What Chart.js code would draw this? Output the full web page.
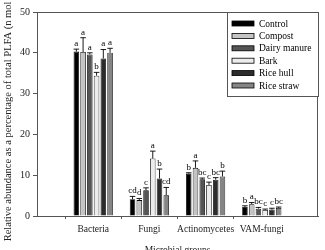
<!DOCTYPE html>
<html>
<head>
<meta charset="utf-8">
<script src="https://cdn.jsdelivr.net/npm/chart.js@4/dist/chart.umd.min.js"></script>
<style>
html,body{margin:0;padding:0;background:#fff;}
#wrap{width:325px;height:250px;position:relative;}
</style>
</head>
<body>
<div id="wrap"><canvas id="c" width="325" height="250"></canvas></div>
<script>
const categories = ['Bacteria', 'Fungi', 'Actinomycetes', 'VAM-fungi'];
const seriesNames = ['Control', 'Compost', 'Dairy manure', 'Bark', 'Rice hull', 'Rice straw'];
const seriesColors = ['#000000', '#c4c4c4', '#555555', '#ececec', '#2c2c2c', '#858585'];

const control   = [40.3, 4.1, 10.4, 2.2];
const compost   = [40.2, 3.9, 11.8, 2.9];
const dairy     = [39.6, 6.3, 9.0, 1.8];
const bark      = [34.4, 14.1, 7.6, 1.5];
const riceHull  = [38.6, 9.2, 8.9, 1.6];
const riceStraw = [40.0, 5.1, 9.7, 2.0];

const errControl   = [0.6, 0.7, 0.2, 0.3];
const errCompost   = [3.5, 0.4, 1.7, 0.4];
const errDairy     = [0.4, 0.6, 0.3, 0.3];
const errBark      = [0.8, 1.8, 0.7, 0.2];
const errRiceHull  = [2.2, 2.3, 0.5, 0.3];
const errRiceStraw = [1.1, 1.9, 1.3, 0.2];

const letControl   = ['a', 'cd', 'b', 'b'];
const letCompost   = ['a', 'd', 'a', 'a'];
const letDairy     = ['a', 'c', 'bc', 'bc'];
const letBark      = ['b', 'a', 'c', 'c'];
const letRiceHull  = ['a', 'b', 'bc', 'c'];
const letRiceStraw = ['a', 'cd', 'b', 'bc'];

const yTicks = [0, 10, 20, 30, 40, 50];

const values = [control, compost, dairy, bark, riceHull, riceStraw];
const errors = [errControl, errCompost, errDairy, errBark, errRiceHull, errRiceStraw];
const letters = [letControl, letCompost, letDairy, letBark, letRiceHull, letRiceStraw];

const pad = a => [null, ...a, null];
const labels = ['', ...categories, ''];

const serif = 'Liberation Serif, Times New Roman, serif';

const datasets = seriesNames.map((n, i) => ({
  label: n,
  data: pad(values[i]),
  backgroundColor: seriesColors[i],
  borderColor: '#000',
  borderWidth: 0.8,
  errs: pad(errors[i]),
  lets: pad(letters[i]),
  barPercentage: 0.82,
  categoryPercentage: 0.72
}));

const boxPlugin = {
  id: 'box',
  afterDraw(chart) {
    const {ctx, chartArea: a} = chart;
    ctx.save();
    ctx.strokeStyle = '#555';
    ctx.lineWidth = 1;
    ctx.strokeRect(a.left + 0.5, a.top + 0.5, a.right - a.left - 1, a.bottom - a.top);
    ctx.restore();
  }
};

const errPlugin = {
  id: 'errs',
  afterDatasetsDraw(chart) {
    const ctx = chart.ctx;
    const y = chart.scales.y;
    ctx.save();
    ctx.strokeStyle = '#000';
    ctx.lineWidth = 0.9;
    ctx.fillStyle = '#000';
    ctx.font = '9px ' + serif;
    ctx.textAlign = 'center';
    ctx.textBaseline = 'bottom';
    chart.data.datasets.forEach((ds, di) => {
      const meta = chart.getDatasetMeta(di);
      meta.data.forEach((bar, i) => {
        const v = ds.data[i];
        if (v == null) return;
        const e = ds.errs[i] || 0;
        const yTop = y.getPixelForValue(v + e);
        const yv = y.getPixelForValue(v);
        const half = bar.width / 2;
        ctx.beginPath();
        ctx.moveTo(bar.x, yv);
        ctx.lineTo(bar.x, yTop);
        ctx.moveTo(bar.x - half, yTop);
        ctx.lineTo(bar.x + half, yTop);
        ctx.stroke();
        ctx.fillText(ds.lets[i], bar.x, yTop - 1);
      });
    });
    ctx.restore();
  }
};

const legendPlugin = {
  id: 'legbox',
  afterDraw(chart) {
    const {ctx, chartArea: a} = chart;
    const x0 = 227, y0 = a.top, w = a.right - x0, h = 84;
    ctx.save();
    ctx.fillStyle = '#fff';
    ctx.fillRect(x0, y0, w, h);
    ctx.strokeStyle = '#555';
    ctx.lineWidth = 1;
    ctx.strokeRect(x0 + 0.5, y0 + 0.5, w, h);
    ctx.font = '9.5px ' + serif;
    ctx.textBaseline = 'middle';
    chart.data.datasets.forEach((ds, i) => {
      const cy = y0 + 11.5 + i * 12.4;
      ctx.fillStyle = ds.backgroundColor;
      ctx.fillRect(232, cy - 2.5, 22, 5);
      ctx.strokeStyle = '#000';
      ctx.lineWidth = 0.8;
      ctx.strokeRect(232, cy - 2.5, 22, 5);
      ctx.fillStyle = '#000';
      ctx.fillText(ds.label, 259, cy + 0.5);
    });
    ctx.restore();
  }
};

new Chart(document.getElementById('c'), {
  type: 'bar',
  data: { labels, datasets },
  options: {
    responsive: false,
    animation: false,
    devicePixelRatio: 1,
    layout: { padding: { top: 12, right: 7, left: 0, bottom: -8 } },
    plugins: { legend: { display: false }, tooltip: { enabled: false } },
    scales: {
      x: {
        offset: false,
        border: { display: true, color: '#555', width: 1 },
        grid: {
          drawOnChartArea: false, drawTicks: true, tickLength: 3,
          color: c => (c.index === 0 || c.index === labels.length - 1) ? 'rgba(0,0,0,0)' : '#555'
        },
        ticks: { color: '#222', font: { family: serif, size: 9.5 }, padding: 5, maxRotation: 0, autoSkip: false },
        title: { display: true, text: 'Microbial groups', color: '#222', font: { family: serif, size: 9.5 }, padding: { top: 4, bottom: 2 } },
        afterFit: s => { s.height = 42; }
      },
      y: {
        min: 0, max: 50,
        border: { display: true, color: '#555', width: 1 },
        grid: { drawOnChartArea: false, drawTicks: true, tickLength: 4, color: '#555' },
        afterBuildTicks: s => { s.ticks = yTicks.map(v => ({ value: v })); },
        ticks: { color: '#222', font: { family: serif, size: 10 }, padding: 3 },
        title: { display: true, text: 'Relative abundance as a percentage of total PLFA (n mol %)', color: '#222', font: { family: serif, size: 10.5 }, padding: { top: 2, bottom: 0 } },
        afterFit: s => { s.width = 37; }
      }
    }
  },
  plugins: [boxPlugin, errPlugin, legendPlugin]
});
</script>
</body>
</html>
